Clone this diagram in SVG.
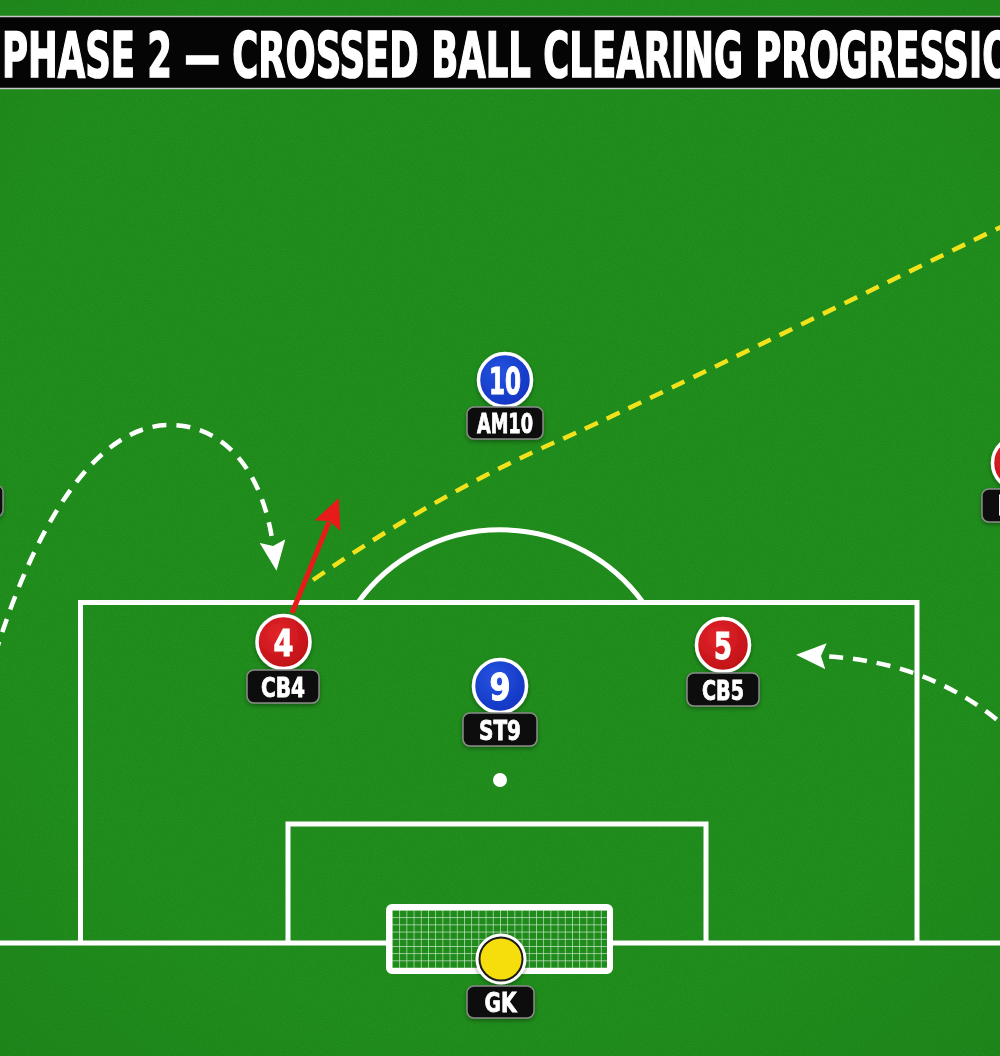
<svg xmlns="http://www.w3.org/2000/svg" width="1000" height="1056" viewBox="0 0 1000 1056">
<defs>
  <filter id="noise" x="0" y="0" width="100%" height="100%">
    <feTurbulence type="fractalNoise" baseFrequency="0.85" numOctaves="2" seed="3" result="t"/>
    <feColorMatrix type="matrix" values="0 0 0 0 0  0 0 0 0 0  0 0 0 0 0  0 0 0 0.14 0" in="t"/>
  </filter>
  <radialGradient id="vig" cx="50%" cy="45%" r="75%">
    <stop offset="0.7" stop-color="#000" stop-opacity="0"/>
    <stop offset="1" stop-color="#000" stop-opacity="0.06"/>
  </radialGradient>
  <radialGradient id="redg" cx="40%" cy="35%" r="70%">
    <stop offset="0" stop-color="#e3262b"/>
    <stop offset="1" stop-color="#bd0f15"/>
  </radialGradient>
  <radialGradient id="blueg" cx="40%" cy="35%" r="70%">
    <stop offset="0" stop-color="#2553e0"/>
    <stop offset="1" stop-color="#1234c0"/>
  </radialGradient>
  <pattern id="net" width="7.2" height="7.2" patternUnits="userSpaceOnUse" x="392" y="910">
    <path d="M0,0 H7.2 M0,0 V7.2" stroke="#ffffff" stroke-opacity="0.8" stroke-width="1.3" fill="none"/>
  </pattern>
  <filter id="shadow" x="-30%" y="-30%" width="160%" height="160%">
    <feDropShadow dx="0" dy="2" stdDeviation="2" flood-color="#000" flood-opacity="0.35"/>
  </filter>
  <marker id="whiteHead" viewBox="0 0 30 26" markerWidth="30" markerHeight="26" refX="4" refY="13" orient="auto" markerUnits="userSpaceOnUse">
    <path d="M0,0 L30,13 L0,26 L5,13 Z" fill="#ffffff"/>
  </marker>
  <marker id="redHead" viewBox="0 0 30 28" markerWidth="30" markerHeight="28" refX="4" refY="14" orient="auto" markerUnits="userSpaceOnUse">
    <path d="M0,0 L30,14 L0,28 L5,14 Z" fill="#e81a1a"/>
  </marker>
  <style>
    .line { fill: none; stroke: #ffffff; stroke-width: 5; }
    .num { font-family: "DejaVu Sans Condensed", "DejaVu Sans", sans-serif; font-weight: bold; fill: #ffffff; stroke: #ffffff; stroke-width: 1; text-anchor: middle; }
    .lbl { font-family: "DejaVu Sans Condensed", "DejaVu Sans", sans-serif; font-weight: bold; fill: #ffffff; stroke: #ffffff; stroke-width: 0.8; text-anchor: middle; font-size: 26px; }
    .lblbox { fill: #0b0b0b; stroke: #8a8a8a; stroke-width: 1.5; }
    .red { fill: url(#redg); stroke: #ffffff; stroke-width: 3.5; }
    .blue { fill: url(#blueg); stroke: #ffffff; stroke-width: 3.5; }
    .run { fill: none; stroke: #ffffff; stroke-width: 4.5; stroke-dasharray: 14 10; }
  </style>
</defs>

<!-- pitch -->
<rect x="0" y="0" width="1000" height="1056" fill="#22961e"/>
<rect x="0" y="0" width="1000" height="1056" filter="url(#noise)"/>
<rect x="0" y="0" width="1000" height="1056" fill="url(#vig)"/>

<g id="pitch-markings">
  <line class="line" x1="0" y1="943" x2="1000" y2="943"/>
  <path class="line" d="M80.5,943 V602.5 H917 V943"/>
  <path class="line" d="M288,943 V824 H706 V943"/>
  <path class="line" d="M358,602.5 A176,176 0 0 1 643,602.5"/>
  <circle cx="500" cy="780" r="7" fill="#ffffff"/>
</g>

<!-- title -->
<g id="title">
  <rect x="-5" y="16.5" width="1010" height="72" fill="#050505" stroke="#c8c8c8" stroke-width="1.5"/>
  <text x="2" y="77" font-family="DejaVu Sans Condensed, DejaVu Sans, sans-serif" font-weight="bold" font-size="63" fill="#ffffff" stroke="#ffffff" stroke-width="1.6" textLength="1040" lengthAdjust="spacingAndGlyphs">PHASE 2 — CROSSED BALL CLEARING PROGRESSION</text>
</g>

<!-- goal -->
<g id="goal">
  <rect x="389" y="907" width="221" height="64" rx="3" fill="#1f8b1b"/>
  <rect x="389" y="907" width="221" height="64" rx="3" fill="url(#net)"/>
  <rect x="389" y="907" width="221" height="64" rx="3" fill="none" stroke="#ffffff" stroke-width="6"/>
</g>

<!-- connectors -->
<g id="connectors">
  <path d="M313,580 C400,520 480,475 560,440 S860,295 1005,225" fill="none" stroke="#f2e21c" stroke-width="4.5" stroke-dasharray="14 10"/>
  <path class="run" d="M-5,655 C30,540 90,425 170,425 C220,425 262,465 273,545" marker-end="url(#whiteHead)"/>
  <path class="run" d="M1015,735 C960,685 900,660 822,656" marker-end="url(#whiteHead)"/>
  <path d="M292,613 L329,522" fill="none" stroke="#e81a1a" stroke-width="5" marker-end="url(#redHead)"/>
</g>

<!-- nodes -->
<g id="node-left" filter="url(#shadow)">
  <circle class="red" cx="-35" cy="458" r="26.5"/>
  <rect class="lblbox" x="-70" y="485" width="73" height="32" rx="7"/>
</g>

<g id="node-right" filter="url(#shadow)">
  <circle class="red" cx="1019" cy="463" r="26.5"/>
  <rect class="lblbox" x="982" y="489" width="76" height="33" rx="7"/>
  <text class="lbl" x="1020" y="515" textLength="45" lengthAdjust="spacingAndGlyphs">RB2</text>
</g>

<g id="node-am10" filter="url(#shadow)">
  <circle class="blue" cx="505" cy="380" r="26.5"/>
  <text class="num" x="505" y="393.5" font-size="37" textLength="32" lengthAdjust="spacingAndGlyphs">10</text>
  <rect class="lblbox" x="467" y="407" width="76" height="32" rx="7"/>
  <text class="lbl" x="505" y="432.5" textLength="56" lengthAdjust="spacingAndGlyphs">AM10</text>
</g>

<g id="node-cb4" filter="url(#shadow)">
  <circle class="red" cx="283.5" cy="642" r="26.5"/>
  <text class="num" x="283.5" y="655.5" font-size="37" textLength="20" lengthAdjust="spacingAndGlyphs">4</text>
  <rect class="lblbox" x="247" y="670" width="72" height="33" rx="7"/>
  <text class="lbl" x="283" y="696.5" textLength="44" lengthAdjust="spacingAndGlyphs">CB4</text>
</g>

<g id="node-st9" filter="url(#shadow)">
  <circle class="blue" cx="500" cy="686" r="26.5"/>
  <text class="num" x="500" y="700" font-size="38" textLength="21" lengthAdjust="spacingAndGlyphs">9</text>
  <rect class="lblbox" x="463" y="713" width="74" height="33" rx="7"/>
  <text class="lbl" x="500" y="739.5" textLength="42" lengthAdjust="spacingAndGlyphs">ST9</text>
</g>

<g id="node-cb5" filter="url(#shadow)">
  <circle class="red" cx="723" cy="645" r="26.5"/>
  <text class="num" x="723" y="658.5" font-size="37" textLength="18" lengthAdjust="spacingAndGlyphs">5</text>
  <rect class="lblbox" x="687" y="673" width="72" height="33" rx="7"/>
  <text class="lbl" x="723" y="699.5" textLength="42" lengthAdjust="spacingAndGlyphs">CB5</text>
</g>

<g id="node-gk" filter="url(#shadow)">
  <circle cx="501" cy="959" r="25.5" fill="#ffffff"/>
  <circle cx="501" cy="959" r="21.5" fill="#f6de0a" stroke="#1a1a1a" stroke-width="2"/>
  <rect class="lblbox" x="467" y="986" width="67" height="32" rx="7"/>
  <text class="lbl" x="500.5" y="1011.5" textLength="32" lengthAdjust="spacingAndGlyphs">GK</text>
</g>
</svg>
